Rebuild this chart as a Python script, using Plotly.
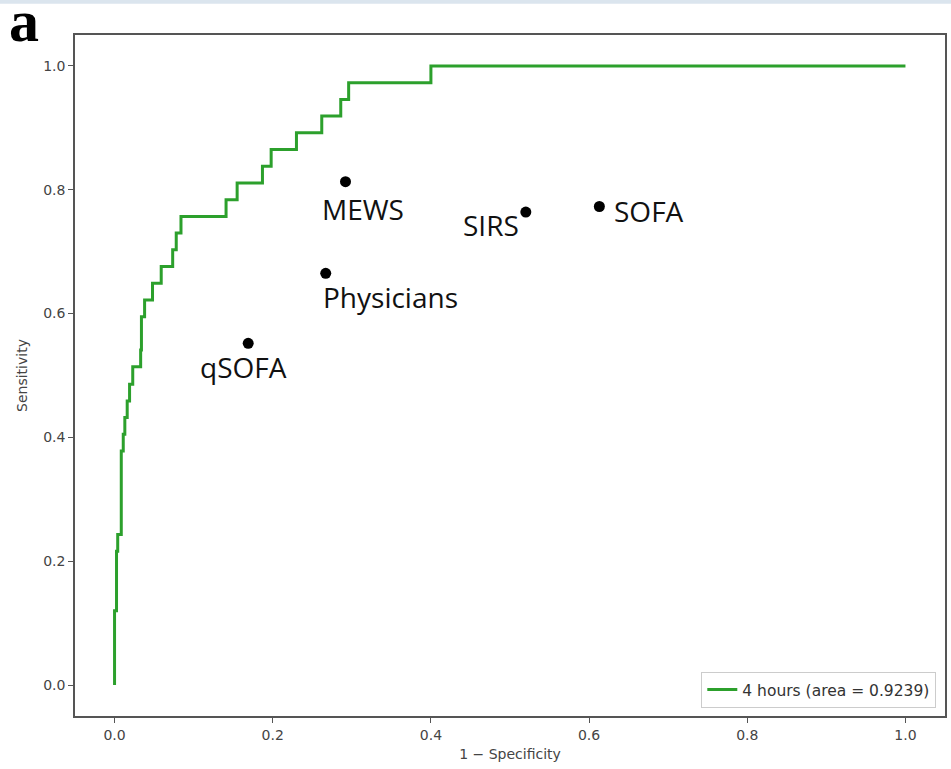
import plotly.graph_objects as go

# ROC curve corner points (1 - specificity, sensitivity)
fpr = [0.0, 0.0, 0.0025, 0.0025, 0.004, 0.004, 0.0085, 0.0085, 0.011, 0.011, 0.013, 0.013,
       0.016, 0.016, 0.019, 0.019, 0.023, 0.023, 0.033, 0.033, 0.034, 0.034, 0.038, 0.038,
       0.048, 0.048, 0.059, 0.059, 0.0735, 0.0735, 0.078, 0.078, 0.084, 0.084, 0.141, 0.141,
       0.155, 0.155, 0.187, 0.187, 0.198, 0.198, 0.230, 0.230, 0.262, 0.262, 0.286, 0.286,
       0.296, 0.296, 0.400, 0.400, 1.0]
tpr = [0.0, 0.120, 0.120, 0.216, 0.216, 0.243, 0.243, 0.378, 0.378, 0.405, 0.405, 0.432,
       0.432, 0.459, 0.459, 0.486, 0.486, 0.514, 0.514, 0.541, 0.541, 0.595, 0.595, 0.622,
       0.622, 0.649, 0.649, 0.676, 0.676, 0.703, 0.703, 0.730, 0.730, 0.757, 0.757, 0.784,
       0.784, 0.811, 0.811, 0.838, 0.838, 0.865, 0.865, 0.892, 0.892, 0.919, 0.919, 0.946,
       0.946, 0.973, 0.973, 1.0, 1.0]
curve_name = "4 hours (area = 0.9239)"

# Comparison scores
score_names = ["MEWS", "Physicians", "qSOFA", "SIRS", "SOFA"]
score_fpr = [0.292, 0.267, 0.169, 0.520, 0.613]
score_tpr = [0.813, 0.665, 0.552, 0.764, 0.773]

x_ticks = [0.0, 0.2, 0.4, 0.6, 0.8, 1.0]
y_ticks = [0.0, 0.2, 0.4, 0.6, 0.8, 1.0]

fig = go.Figure()
fig.add_trace(go.Scatter(x=fpr, y=tpr, mode="lines", name=curve_name,
                         line=dict(color="#2ca02c", width=3)))
fig.add_trace(go.Scatter(x=score_fpr, y=score_tpr, mode="markers", showlegend=False,
                         marker=dict(color="black", size=11)))

# label placement: (dx in data, dy in data, xanchor)
label_pos = {
    "MEWS": (-0.032, -0.044, "left"),
    "Physicians": (-0.006, -0.039, "left"),
    "qSOFA": (-0.063, -0.039, "left"),
    "SIRS": (-0.006, -0.021, "right"),
    "SOFA": (0.016, -0.008, "left"),
}
for n, xv, yv in zip(score_names, score_fpr, score_tpr):
    dx, dy, xa = label_pos[n]
    fig.add_annotation(x=xv + dx, y=yv + dy, text=n, showarrow=False, xanchor=xa,
                       yanchor="middle", font=dict(family="Open Sans", size=28, color="#111"))

fig.add_annotation(xref="paper", yref="paper", x=-0.078, y=1.072, text="<b>a</b>",
                   showarrow=False, xanchor="left", yanchor="top",
                   font=dict(family="Liberation Serif", size=60, color="black"))

fig.add_shape(type="rect", xref="paper", yref="paper", x0=-0.1, x1=1.01, y0=1.046, y1=1.06,
              fillcolor="#dbe5ee", line_width=0, layer="below")

axis_common = dict(showline=True, mirror=True, linecolor="#555", linewidth=1.5,
                   ticks="outside", ticklen=5, tickcolor="#555", showgrid=False,
                   zeroline=False, tickformat=".1f",
                   tickfont=dict(family="DejaVu Sans", size=14, color="#444"),
                   title_font=dict(family="DejaVu Sans", size=14, color="#444"))

fig.update_layout(
    width=951, height=769,
    margin=dict(l=75, r=4, t=35, b=53),
    plot_bgcolor="white", paper_bgcolor="white",
    xaxis=dict(range=[-0.05, 1.05], tickvals=x_ticks, title=dict(text="1 − Specificity", standoff=8),
               **axis_common),
    yaxis=dict(range=[-0.05, 1.05], tickvals=y_ticks, title=dict(text="Sensitivity", standoff=12),
               **axis_common),
    legend=dict(x=0.99, y=0.0117, xanchor="right", yanchor="bottom",
                bordercolor="#ccc", borderwidth=1, bgcolor="white",
                font=dict(family="DejaVu Sans", size=15.5, color="#333")),
    showlegend=True,
)

fig.write_html("out.html", config={"displayModeBar": False},
               post_script="document.body.style.margin='0px';")
